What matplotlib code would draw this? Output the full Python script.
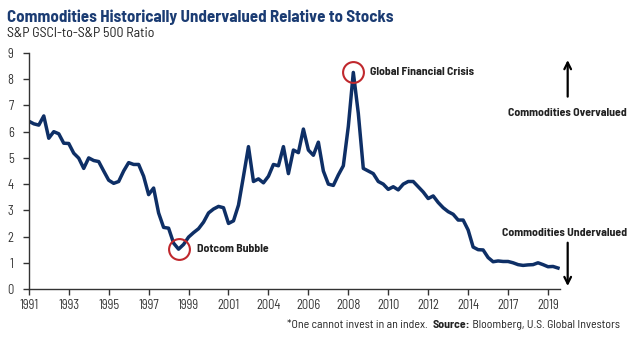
import numpy as np
import matplotlib
matplotlib.use("Agg")
import matplotlib.pyplot as plt

plt.rcParams['font.family'] = ['Barlow Semi Condensed', 'DejaVu Sans']

# Ratio, 8 samples per tick interval
ratio = [6.40, 6.30, 6.25, 6.60, 5.75, 6.00, 5.92, 5.56, 5.55, 5.18,
         4.99, 4.60, 5.00, 4.90, 4.86, 4.50, 4.15, 4.03, 4.10, 4.50,
         4.82, 4.75, 4.75, 4.30, 3.60, 3.85, 2.90, 2.35, 2.32, 1.75,
         1.52, 1.70, 1.98, 2.15, 2.30, 2.55, 2.90, 3.05, 3.15, 3.10,
         2.50, 2.60, 3.20, 4.30, 5.43, 4.10, 4.20, 4.05, 4.30, 4.75,
         4.70, 5.43, 4.40, 5.30, 5.20, 6.10, 5.30, 5.10, 5.60, 4.50,
         4.00, 3.95, 4.35, 4.70, 6.20, 8.26, 6.70, 4.60, 4.50, 4.40,
         4.10, 4.00, 3.80, 3.90, 3.78, 4.00, 4.10, 4.10, 3.90, 3.70,
         3.45, 3.55, 3.30, 3.10, 2.95, 2.85, 2.63, 2.63, 2.25, 1.60,
         1.50, 1.49, 1.20, 1.04, 1.07, 1.05, 1.05, 1.00, 0.93, 0.90,
         0.92, 0.93, 1.00, 0.93, 0.85, 0.86, 0.80]
year_labels = ['1991', '1993', '1995', '1997', '1999', '2001', '2004',
               '2006', '2008', '2010', '2012', '2014', '2017', '2019']
samples_per_tick = 8

navy = '#0e2f66'
red = '#c0282d'
ink = '#222222'

x = np.arange(len(ratio)) / samples_per_tick
y = np.array(ratio)

fig = plt.figure(figsize=(6.4, 3.37), dpi=100)
ax = fig.add_axes([0.045, 0.1424, 0.83, 0.7003])
ax.plot(x, y, color=navy, lw=2.5, solid_joinstyle='round')

ax.set_xlim(0, 13.3)
ax.set_ylim(0, 9)
ax.set_yticks(range(0, 10))
ax.set_xticks(range(len(year_labels)))
ax.set_xticklabels(year_labels)
for s in ['top', 'right']:
    ax.spines[s].set_visible(False)
for s in ['left', 'bottom']:
    ax.spines[s].set_color('#333333')
    ax.spines[s].set_linewidth(1.0)
ax.tick_params(axis='both', colors='#333333', labelsize=9, length=4, width=1.0)
ax.tick_params(axis='y', pad=7)
ax.tick_params(axis='x', pad=3)

# circles on the peak and the dotcom low
i_peak = int(np.argmax(y))
i_low = int(np.argmin(y[:60]))
for i in (i_peak, i_low):
    ax.plot(x[i], y[i], 'o', ms=15, mfc='none', mec=red, mew=1.5, clip_on=False)
ax.annotate('Global Financial Crisis', (x[i_peak], y[i_peak]), xytext=(12, 0),
            textcoords='offset points', fontsize=8.5, fontweight='bold', va='center', color=ink)
ax.annotate('Dotcom Bubble', (x[i_low], y[i_low]), xytext=(13, 0),
            textcoords='offset points', fontsize=8.5, fontweight='bold', va='center', color=ink)

# over / undervalued arrows
ax.annotate('', xy=(0.887, 0.83), xytext=(0.887, 0.705), xycoords='figure fraction',
            arrowprops=dict(arrowstyle='->', color='black', lw=1.6, mutation_scale=12))
ax.annotate('', xy=(0.887, 0.143), xytext=(0.887, 0.288), xycoords='figure fraction',
            arrowprops=dict(arrowstyle='->', color='black', lw=1.6, mutation_scale=12))
fig.text(0.98, 0.665, 'Commodities Overvalued', ha='right', va='center',
         fontsize=8.5, fontweight='bold', color=ink)
fig.text(0.98, 0.308, 'Commodities Undervalued', ha='right', va='center',
         fontsize=8.5, fontweight='bold', color=ink)

fig.text(0.011, 0.948, 'Commodities Historically Undervalued Relative to Stocks',
         fontsize=12.2, fontweight='bold', color='#1b3c73', va='center')
fig.text(0.011, 0.9, 'S&P GSCI-to-S&P 500 Ratio', fontsize=10, color=ink, va='center')

t1 = fig.text(0.449, 0.027, '*One cannot invest in an index.  ', fontsize=8.5,
              color=ink, va='baseline')
t2 = ax.annotate('Source:', xy=(1, 0), xycoords=t1, va='bottom', fontsize=8.5,
                 fontweight='bold', color=ink)
ax.annotate(' Bloomberg, U.S. Global Investors', xy=(1, 0), xycoords=t2, va='bottom',
            fontsize=8.5, color=ink)

fig.savefig('out.png', dpi=100)
